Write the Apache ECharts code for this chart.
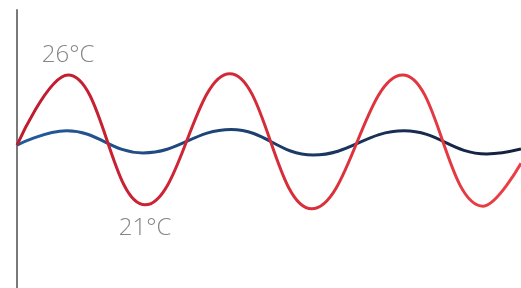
<!DOCTYPE html>
<html>
<head>
<meta charset="utf-8">
<script src="https://cdn.jsdelivr.net/npm/echarts@6/dist/echarts.min.js"></script>
<style>html,body{margin:0;padding:0;background:#fff}#c{width:521px;height:288px}</style>
</head>
<body>
<div id="c"></div>
<script>
// hours along the x axis (start, extremes, end)
var redHours  = [0, 7.3, 18.3, 30.4, 42.1, 55.1, 66.6, 72];
var redTemps  = [23.3, 26.0, 21.0, 26.05, 20.85, 26.0, 20.95, 22.6];
var blueHours = [0, 7.1, 18.0, 30.6, 42.3, 55.3, 67.1, 72];
var blueTemps = [23.3, 23.85, 23.0, 23.9, 22.92, 23.85, 22.96, 23.15];
var peakLabel = '26°C';
var troughLabel = '21°C';

function pts(xs, ys){ return xs.map(function(x,i){ return [x, ys[i]]; }); }

var labelStyle = {fontSize: 24, color: '#858585', fontFamily: 'Open Sans', fontWeight: 300};
var chart = echarts.init(document.getElementById('c'));
chart.setOption({
  animation: false,
  grid: {left: 17, right: 0, top: 10, bottom: 0},
  xAxis: {type: 'value', min: 0, max: 72, show: false},
  yAxis: {type: 'value', min: 17.8, max: 28.5,
    axisLine: {show: true, lineStyle: {color: '#7a7a7a', width: 2}},
    axisTick: {show: false}, axisLabel: {show: false}, splitLine: {show: false}},
  series: [
    {type: 'line', data: pts(blueHours, blueTemps), smooth: 0.42, symbol: 'none', z: 2,
     lineStyle: {width: 3, color: new echarts.graphic.LinearGradient(0,0,1,0,[{offset:0,color:'#235c9c'},{offset:1,color:'#141f3a'}])}},
    {type: 'line', data: pts(redHours, redTemps), smooth: 0.42, symbol: 'none', z: 3,
     lineStyle: {width: 3, color: new echarts.graphic.LinearGradient(0,0,1,0,[{offset:0,color:'#bf1a2e'},{offset:1,color:'#ec3f46'}])},
     markPoint: {symbol: 'circle', symbolSize: 0, silent: true,
       data: [
         {coord: [redHours[1], redTemps[1]], label: Object.assign({show: true, position: 'top', distance: 8, formatter: peakLabel}, labelStyle)},
         {coord: [redHours[2], redTemps[2]], label: Object.assign({show: true, position: 'bottom', distance: 11, formatter: troughLabel}, labelStyle)}
       ]}}
  ]
});
</script>
</body>
</html>
